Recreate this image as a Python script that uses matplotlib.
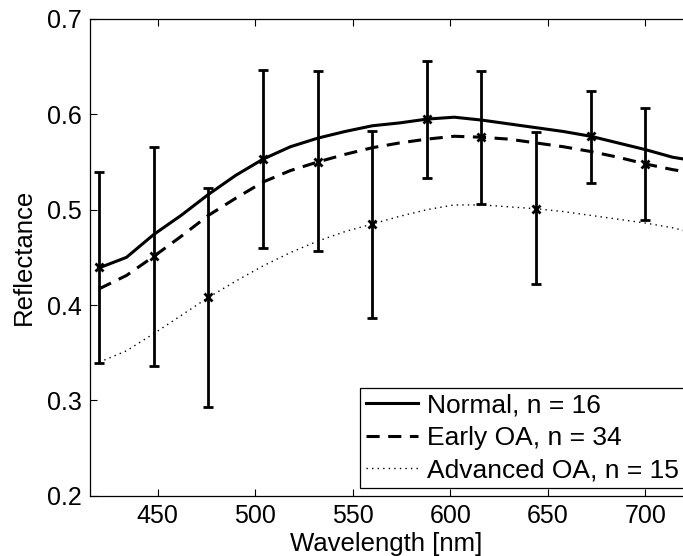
import matplotlib
matplotlib.use('Agg')
import matplotlib.pyplot as plt

plt.rcParams['font.family'] = ['Liberation Sans', 'DejaVu Sans']

# mean reflectance curves
wl = [420, 434, 448, 462, 476, 490, 504, 518, 532, 546, 560, 574, 588,
      602, 616, 630, 644, 658, 672, 686, 700, 714, 720]
normal = [0.439, 0.450, 0.474, 0.494, 0.516, 0.536, 0.553, 0.566, 0.575,
          0.582, 0.588, 0.591, 0.595, 0.597, 0.594, 0.590, 0.586, 0.582,
          0.577, 0.570, 0.563, 0.555, 0.553]
early = [0.417, 0.431, 0.451, 0.472, 0.494, 0.512, 0.529, 0.541, 0.550,
         0.558, 0.565, 0.570, 0.574, 0.577, 0.576, 0.574, 0.570, 0.566,
         0.561, 0.555, 0.548, 0.542, 0.540]
advanced = [0.340, 0.352, 0.370, 0.389, 0.408, 0.425, 0.441, 0.455, 0.467,
            0.477, 0.485, 0.493, 0.500, 0.505, 0.505, 0.503, 0.501, 0.498,
            0.494, 0.490, 0.486, 0.481, 0.478]

# error bars (cycling normal / early / advanced)
err_x = [420, 448, 476, 504, 532, 560, 588, 616, 644, 672, 700]
err_mid = [0.440, 0.451, 0.408, 0.553, 0.550, 0.485, 0.595, 0.576, 0.501, 0.577, 0.548]
err_lo = [0.339, 0.336, 0.293, 0.460, 0.457, 0.386, 0.533, 0.506, 0.422, 0.528, 0.489]
err_hi = [0.540, 0.566, 0.523, 0.646, 0.645, 0.583, 0.656, 0.645, 0.581, 0.625, 0.607]

labels = ['Normal, n = 16', 'Early OA, n = 34', 'Advanced OA, n = 15']

fig = plt.figure(figsize=(6.83, 5.56), dpi=100)
ax = fig.add_axes([90 / 683, (556 - 495.7) / 556, (683 - 90) / 683, (495.7 - 19) / 556])

ax.plot(wl, normal, color='black', lw=2.2, label=labels[0])
ax.plot(wl, early, color='black', lw=2.2, ls=(0, (4.3, 2.8)), label=labels[1])
ax.plot(wl, advanced, color='black', lw=1.0, ls=(0, (1, 3)), label=labels[2])

yerr = [[m - l for m, l in zip(err_mid, err_lo)], [h - m for m, h in zip(err_mid, err_hi)]]
ax.errorbar(err_x, err_mid, yerr=yerr, fmt='x', color='black', ms=6, mew=2,
            elinewidth=2, capsize=3.5, capthick=2)

ax.set_xlim(415.3, 719.3)
ax.set_ylim(0.2, 0.7)
ax.set_xticks([450, 500, 550, 600, 650, 700])
ax.set_yticks([0.2, 0.3, 0.4, 0.5, 0.6, 0.7])
ax.tick_params(direction='in', length=5, width=0.8, labelsize=18, pad=6,
               top=True, right=False)
ax.spines['right'].set_visible(False)
for s in ['left', 'bottom', 'top']:
    ax.spines[s].set_linewidth(0.9)

ax.set_xlabel('Wavelength [nm]', fontsize=18.5, labelpad=3)
ax.set_ylabel('Reflectance', fontsize=18.5, labelpad=8)

leg = ax.legend(loc='lower left', bbox_to_anchor=((360.3 - 90) / 593, (495.7 - 488) / 476.7),
                borderaxespad=0, fontsize=19, fancybox=False, edgecolor='black',
                framealpha=1, handlelength=2.0, handletextpad=0.33, labelspacing=0.33,
                borderpad=0.2)
leg.get_frame().set_linewidth(0.9)

fig.savefig('out.png', dpi=100)
